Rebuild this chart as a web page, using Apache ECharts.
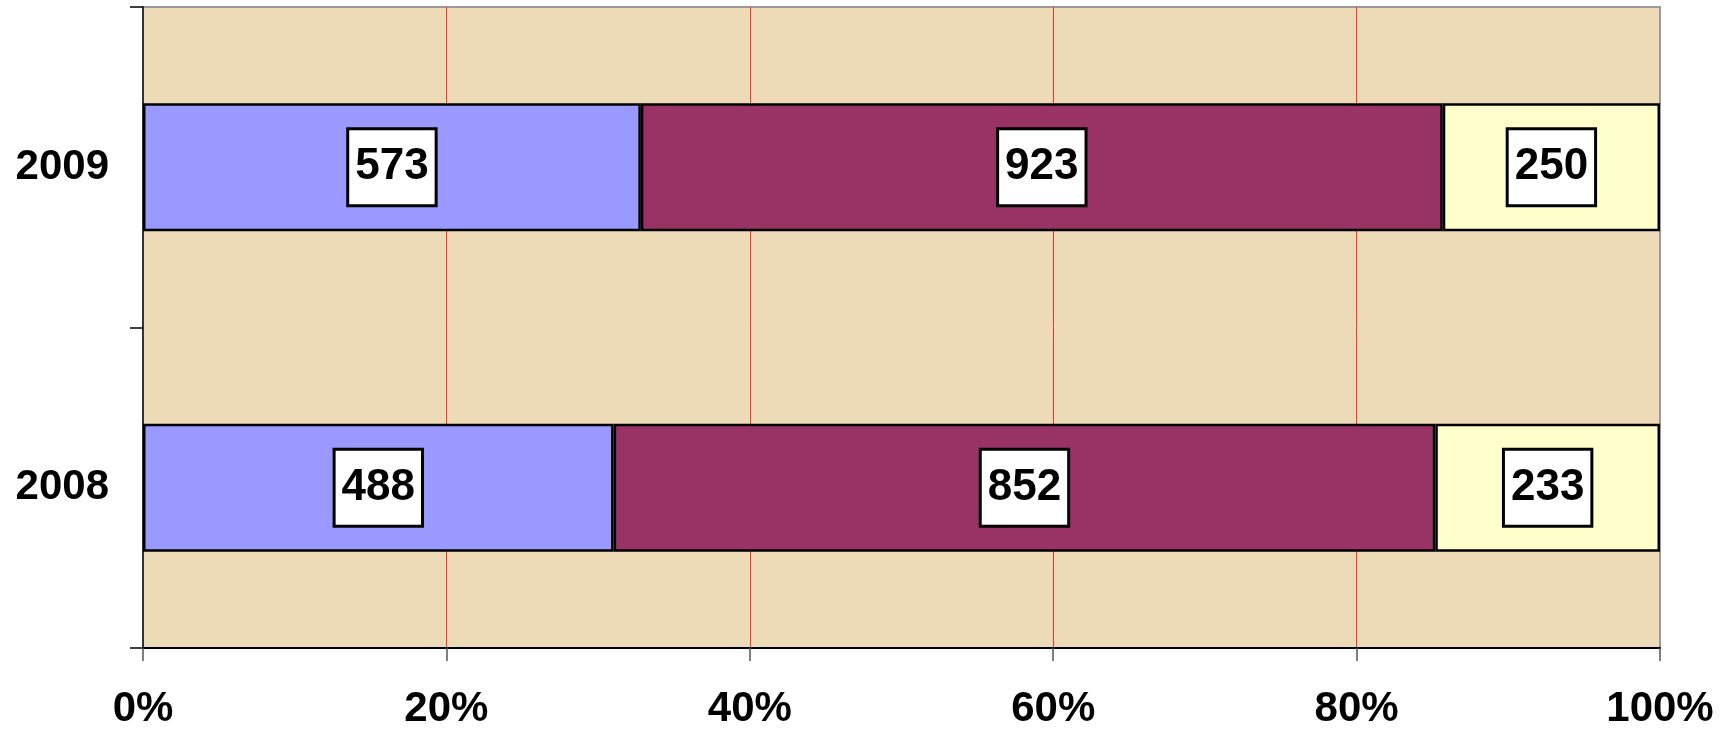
<!DOCTYPE html>
<html>
<head>
<meta charset="utf-8">
<script src="https://cdn.jsdelivr.net/npm/echarts@6/dist/echarts.min.js"></script>
<style>
html,body{margin:0;padding:0;background:#fff;}
#chart{width:1724px;height:733px;}
</style>
</head>
<body>
<div id="chart"></div>
<script>
var categories = ['2008', '2009'];
var seriesA = [488, 573];
var seriesB = [852, 923];
var seriesC = [233, 250];
var xTickLabels = ['0%', '20%', '40%', '60%', '80%', '100%'];
var colors = ['#9999FF', '#993366', '#FFFFCC'];

var totals = categories.map(function (c, i) { return seriesA[i] + seriesB[i] + seriesC[i]; });
function toPct(arr) {
  return arr.map(function (v, i) { return { value: v / totals[i] * 100, raw: v }; });
}

var labelStyle = {
  show: true,
  position: 'inside',
  formatter: function (p) { return p.data.raw; },
  fontFamily: 'Liberation Sans, Arial, sans-serif',
  fontWeight: 'bold',
  fontSize: 44,
  lineHeight: 44,
  color: '#000',
  backgroundColor: '#fff',
  borderColor: '#000',
  borderWidth: 3,
  padding: [15, 6]
};

function mkSeries(name, arr, color) {
  return {
    name: name,
    type: 'bar',
    stack: 'total',
    barWidth: '40%',
    data: toPct(arr),
    itemStyle: { color: color, borderColor: '#000', borderWidth: 2.5 },
    label: labelStyle
  };
}

var chart = echarts.init(document.getElementById('chart'), null, { renderer: 'canvas' });
chart.setOption({
  animation: false,
  backgroundColor: '#fff',
  grid: {
    left: 143, right: 64, top: 7, bottom: 85,
    show: true,
    backgroundColor: '#ECDBB6',
    borderColor: '#9a9a9a',
    borderWidth: 2
  },
  xAxis: {
    type: 'value',
    min: 0, max: 100, interval: 20,
    axisLine: { show: true, lineStyle: { color: '#000', width: 2 } },
    axisTick: { show: true, length: 13, lineStyle: { color: '#555', width: 1.5 } },
    splitLine: { show: true, showMinLine: false, showMaxLine: false, lineStyle: { color: '#FF3030', width: 1 } },
    axisLabel: {
      margin: 40,
      fontFamily: 'Liberation Sans, Arial, sans-serif',
      fontWeight: 'bold',
      fontSize: 42,
      color: '#000',
      formatter: function (v) { return xTickLabels[Math.round(v / 20)]; }
    }
  },
  yAxis: {
    type: 'category',
    data: categories,
    axisLine: { show: true, lineStyle: { color: '#333', width: 2 } },
    axisTick: { show: true, length: 13, lineStyle: { color: '#000', width: 1.5 } },
    axisLabel: {
      margin: 34,
      fontFamily: 'Liberation Sans, Arial, sans-serif',
      fontWeight: 'bold',
      fontSize: 42,
      color: '#000'
    }
  },
  series: [
    mkSeries('A', seriesA, colors[0]),
    mkSeries('B', seriesB, colors[1]),
    mkSeries('C', seriesC, colors[2])
  ]
});
</script>
</body>
</html>
